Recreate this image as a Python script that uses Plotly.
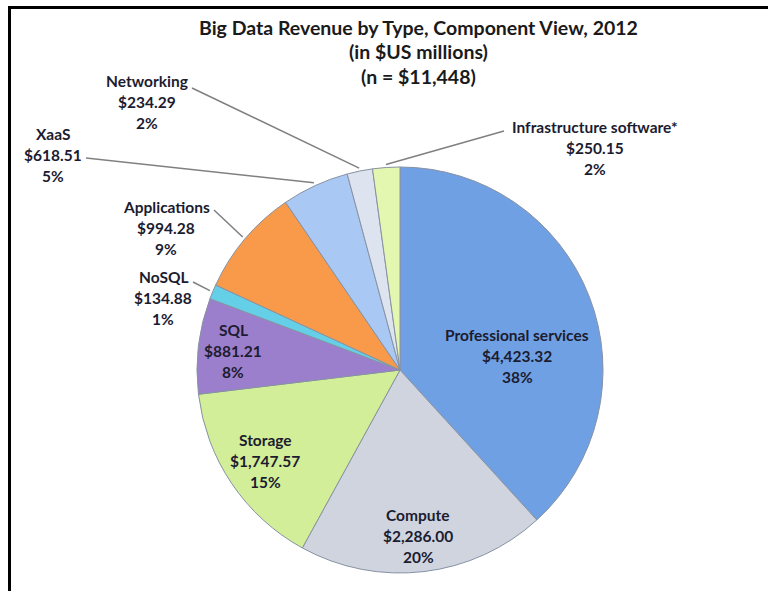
import math
import plotly.graph_objects as go

# Big Data revenue by component, 2012 (US$ millions)
categories = ["Professional services", "Compute", "Storage", "SQL", "NoSQL",
              "Applications", "XaaS", "Networking", "Infrastructure software*"]
revenue = [4423.32, 2286.00, 1747.57, 881.21, 134.88, 994.28, 618.51, 234.29, 250.15]
slice_colors = ["#70a0e4", "#cfd4df", "#d3ee98", "#9c7fcc", "#66cfe8",
                "#f99a4a", "#a9c8f4", "#dde3ef", "#e3f7b0"]

title_lines = ["Big Data Revenue by Type, Component View, 2012",
               "(in $US millions)",
               "(n = $11,448)"]

W, H = 768, 591
CX, CY, R = 400, 370, 203  # pie centre and radius in pixels


def px(x):
    return x / W


def py(y):
    return 1 - y / H


total = sum(revenue)
pcts = [round(v / total * 100) for v in revenue]

fig = go.Figure()
fig.add_trace(go.Pie(
    labels=categories,
    values=revenue,
    sort=False,
    direction="clockwise",
    rotation=0,
    textinfo="none",
    hoverinfo="label+value+percent",
    marker=dict(colors=slice_colors, line=dict(color="#8792a3", width=1)),
    domain=dict(x=[px(CX - R), px(CX + R)], y=[py(CY + R), py(CY - R)]),
    showlegend=False,
))

font_family = "Lato, 'Open Sans', sans-serif"
annotations = []
shapes = []

# title block
for i, line in enumerate(title_lines):
    annotations.append(dict(
        x=px(418), y=py(27 + i * 24.5), xref="paper", yref="paper",
        text=line, showarrow=False, xanchor="center", yanchor="middle",
        font=dict(family=font_family, size=19.5, color="#1a1a1a", weight="bold"),
    ))

# label anchor (centre x, first-line y) and leader start for each slice
label_pos = {
    "Professional services": (517, 335, None),
    "Compute": (418, 515, None),
    "Storage": (265, 440, None),
    "SQL": (233, 330, None),
    "NoSQL": (163, 277, (193, 282)),
    "Applications": (166, 207, (214, 210)),
    "XaaS": (53, 134, (86, 158)),
    "Networking": (147, 81, (192, 88)),
    "Infrastructure software*": (595, 127, (504, 131)),
}

cum = 0.0
for name, val, pct in zip(categories, revenue, pcts):
    frac = val / total
    mid = (cum + frac / 2) * 2 * math.pi
    cum += frac
    lx, ly, lead = label_pos[name]
    lines = [name, f"${val:,.2f}", f"{pct}%"]
    for j, t in enumerate(lines):
        annotations.append(dict(
            x=px(lx), y=py(ly + j * 21), xref="paper", yref="paper",
            text=t, showarrow=False, xanchor="center", yanchor="middle",
            font=dict(family=font_family, size=15.5, color="#1c1c30", weight="bold"),
        ))
    if lead is not None:
        ex = CX + (R + 3) * math.sin(mid)
        ey = CY - (R + 3) * math.cos(mid)
        shapes.append(dict(
            type="line", xref="paper", yref="paper",
            x0=px(lead[0]), y0=py(lead[1]), x1=px(ex), y1=py(ey),
            line=dict(color="#808080", width=1.5),
        ))

# frame along the top and left edges
shapes.append(dict(type="line", xref="paper", yref="paper",
                   x0=px(8), y0=py(7.5), x1=1, y1=py(7.5),
                   line=dict(color="#000000", width=3)))
shapes.append(dict(type="line", xref="paper", yref="paper",
                   x0=px(9.5), y0=py(6), x1=px(9.5), y1=0,
                   line=dict(color="#000000", width=3)))

fig.update_layout(
    width=W, height=H,
    margin=dict(l=0, r=0, t=0, b=0),
    paper_bgcolor="#ffffff",
    plot_bgcolor="#ffffff",
    annotations=annotations,
    shapes=shapes,
)

fig.write_html("out.html")
